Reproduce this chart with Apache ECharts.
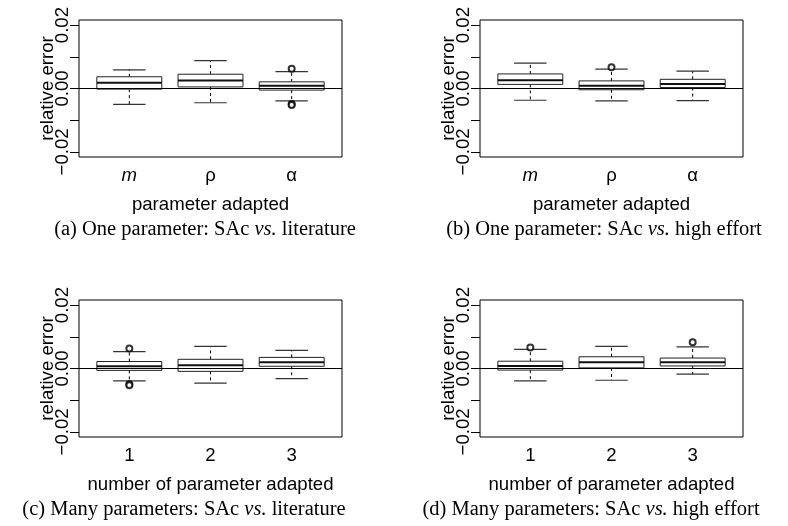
<!DOCTYPE html>
<html>
<head>
<meta charset="utf-8">
<title>relative error boxplots</title>
<script src="https://cdn.jsdelivr.net/npm/echarts@6/dist/echarts.min.js"></script>
<style>
  html, body { margin: 0; padding: 0; background: #fff; }
  #chart { width: 788px; height: 526px; }
</style>
</head>
<body>
<div id="chart"></div>
<script>
// x categories
var oneParamCats = ['m', 'ρ', 'α'];
var manyParamCats = ['1', '2', '3'];

// box stats per category: [lower whisker, Q1, median, Q3, upper whisker]
var boxLitOne = [
  [-0.0050, -0.0002, 0.0018, 0.0037, 0.0059],
  [-0.0045, 0.0005, 0.0025, 0.0045, 0.0088],
  [-0.0039, -0.0005, 0.0009, 0.0021, 0.0053]
];
var boxHighOne = [
  [-0.0037, 0.0013, 0.0026, 0.0046, 0.0080],
  [-0.0039, -0.0004, 0.0009, 0.0024, 0.0061],
  [-0.0038, 0.0003, 0.0014, 0.0029, 0.0055]
];
var boxLitMany = [
  [-0.0039, -0.0006, 0.0007, 0.0022, 0.0053],
  [-0.0046, -0.0009, 0.0010, 0.0029, 0.0070],
  [-0.0032, 0.0007, 0.0020, 0.0035, 0.0057]
];
var boxHighMany = [
  [-0.0039, -0.0005, 0.0008, 0.0023, 0.0060],
  [-0.0037, 0.0002, 0.0020, 0.0037, 0.0070],
  [-0.0018, 0.0008, 0.0020, 0.0033, 0.0068]
];

// outliers: [category number, value]
var outLitOne = [[3, 0.0062], [3, -0.0049], [3, -0.0052]];
var outHighOne = [[2, 0.0067]];
var outLitMany = [[1, 0.0063], [1, -0.0050], [1, -0.0053]];
var outHighMany = [[1, 0.0066], [3, 0.0083]];

// y axis ticks / labels
var yTicks = [-0.02, -0.01, 0, 0.01, 0.02];
var yLabels = [-0.02, 0, 0.02];
var xTicks = [1, 2, 3];

var yName = 'relative error';
var xNames = ['parameter adapted', 'parameter adapted', 'number of parameter adapted', 'number of parameter adapted'];
var captions = [
  ['(a)', 'One parameter: SAc', 'vs.', 'literature'],
  ['(b)', 'One parameter: SAc', 'vs.', 'high effort'],
  ['(c)', 'Many parameters: SAc', 'vs.', 'literature'],
  ['(d)', 'Many parameters: SAc', 'vs.', 'high effort']
];

var SANS = '"Liberation Sans", Arial, Helvetica, sans-serif';
var SERIF = '"Liberation Serif", "Times New Roman", serif';
var FS = 18.6;

var panels = [
  { boxes: boxLitOne, outs: outLitOne, cats: oneParamCats, left: 79, top: 20, capX: 205, capY: 230 },
  { boxes: boxHighOne, outs: outHighOne, cats: oneParamCats, left: 480, top: 20, capX: 604, capY: 230 },
  { boxes: boxLitMany, outs: outLitMany, cats: manyParamCats, left: 79, top: 300, capX: 184, capY: 510 },
  { boxes: boxHighMany, outs: outHighMany, cats: manyParamCats, left: 480, top: 300, capX: 591, capY: 510 }
];

function renderBox(params, api) {
  var x = api.value(0);
  var half = api.size([0.4, 0])[0];
  var cap = api.size([0.2, 0])[0];
  var pMin = api.coord([x, api.value(1)]);
  var pQ1 = api.coord([x, api.value(2)]);
  var pMed = api.coord([x, api.value(3)]);
  var pQ3 = api.coord([x, api.value(4)]);
  var pMax = api.coord([x, api.value(5)]);
  var cx = pMed[0];
  var dash = { stroke: '#000', lineWidth: 1, lineDash: [3, 3] };
  var solid = { stroke: '#333', lineWidth: 1.2 };
  return {
    type: 'group',
    children: [
      { type: 'line', shape: { x1: cx, y1: pQ3[1], x2: cx, y2: pMax[1] }, style: dash },
      { type: 'line', shape: { x1: cx, y1: pQ1[1], x2: cx, y2: pMin[1] }, style: dash },
      { type: 'line', shape: { x1: cx - cap, y1: pMax[1], x2: cx + cap, y2: pMax[1] }, style: solid },
      { type: 'line', shape: { x1: cx - cap, y1: pMin[1], x2: cx + cap, y2: pMin[1] }, style: solid },
      { type: 'rect', shape: { x: cx - half, y: pQ3[1], width: half * 2, height: pQ1[1] - pQ3[1] },
        style: { fill: '#fff', stroke: '#222', lineWidth: 1 } },
      { type: 'line', shape: { x1: cx - half, y1: pMed[1], x2: cx + half, y2: pMed[1] },
        style: { stroke: '#111', lineWidth: 2 } }
    ]
  };
}

function fmtY(v) {
  if (Math.abs(v) < 1e-9) return '0.00';
  return (v < 0 ? '\u2212' : '') + Math.abs(v).toFixed(2);
}

var grids = [], xAxes = [], yAxes = [], series = [], graphics = [];

panels.forEach(function (p, i) {
  grids.push({
    left: p.left, top: p.top, width: 263, height: 137,
    show: true, borderColor: '#000', borderWidth: 1, backgroundColor: 'transparent'
  });
  var cats = p.cats;
  xAxes.push({
    type: 'value', gridIndex: i, min: 0.38, max: 3.62,
    axisLine: { show: false }, axisTick: { show: false }, splitLine: { show: false },
    axisLabel: {
      customValues: xTicks, margin: 9, color: '#000', fontSize: FS, fontFamily: SANS,
      formatter: function (v) {
        var s = cats[Math.round(v) - 1];
        return s === 'm' ? '{it|m}' : s;
      },
      rich: { it: { fontStyle: 'italic', fontSize: FS, fontFamily: SANS, color: '#000' } }
    },
    name: xNames[i], nameLocation: 'middle', nameGap: 38,
    nameTextStyle: { color: '#000', fontSize: FS, fontFamily: SANS }
  });
  yAxes.push({
    type: 'value', gridIndex: i, min: -0.0216, max: 0.0216,
    axisLine: { show: false },
    axisTick: { show: true, length: 9, customValues: yTicks, lineStyle: { color: '#000' } },
    splitLine: { show: false },
    axisLabel: {
      customValues: yLabels, rotate: 90, margin: 7, color: '#000',
      fontSize: FS, fontFamily: SANS, formatter: fmtY
    }
  });
  series.push({
    type: 'custom', xAxisIndex: i, yAxisIndex: i,
    renderItem: renderBox,
    encode: { x: 0, y: [1, 2, 3, 4, 5] },
    data: p.boxes.map(function (b, k) { return [k + 1].concat(b); }),
    silent: true,
    markLine: {
      silent: true, symbol: ['none', 'none'], label: { show: false },
      lineStyle: { color: '#000', width: 1, type: 'solid' },
      data: [{ yAxis: 0 }]
    }
  });
  series.push({
    type: 'scatter', xAxisIndex: i, yAxisIndex: i,
    symbol: 'emptyCircle', symbolSize: 6,
    itemStyle: { color: '#000', borderColor: '#000', borderWidth: 1 },
    data: p.outs, silent: true, z: 5
  });
  // y axis title, rotated, sits right next to the tick labels
  graphics.push({
    type: 'text', x: p.left - 31, y: p.top + 68.5, rotation: Math.PI / 2,
    style: {
      text: yName, fontSize: FS, fontFamily: SANS, fill: '#000',
      align: 'center', verticalAlign: 'middle'
    }
  });
  var c = captions[i];
  graphics.push({
    type: 'text', x: p.capX, y: p.capY,
    style: {
      text: c[0] + ' ' + c[1] + ' {it|' + c[2] + '} ' + c[3],
      fontSize: 20.5, fontFamily: SERIF, fill: '#000',
      align: 'center', verticalAlign: 'middle',
      rich: { it: { fontStyle: 'italic', fontSize: 20.5, fontFamily: SERIF, fill: '#000' } }
    }
  });
});

var chart = echarts.init(document.getElementById('chart'), null, { renderer: 'canvas' });
chart.setOption({
  animation: false,
  backgroundColor: '#fff',
  grid: grids,
  xAxis: xAxes,
  yAxis: yAxes,
  series: series,
  graphic: graphics
});
</script>
</body>
</html>
